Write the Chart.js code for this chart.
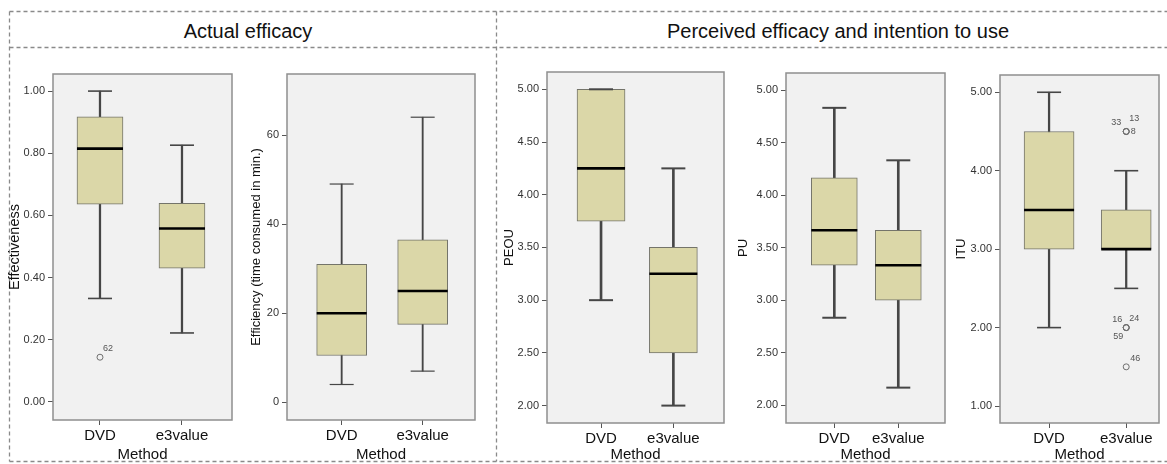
<!DOCTYPE html>
<html>
<head>
<meta charset="utf-8">
<script src="https://cdn.jsdelivr.net/npm/chart.js@4.4.1/dist/chart.umd.min.js"></script>
<style>
  html, body { margin: 0; padding: 0; background: #fff; }
  body { width: 1167px; height: 464px; position: relative; overflow: hidden; font-family: "Liberation Sans", Arial, sans-serif; }
  canvas { position: absolute; }
  .head { position: absolute; top: 20px; font-size: 20px; color: #111; white-space: nowrap; transform: translateX(-50%); }
  svg { position: absolute; left: 0; top: 0; }
</style>
</head>
<body>
<svg width="1167" height="464">
  <g stroke="#8a8a8a" stroke-width="1.3" stroke-dasharray="4 3" fill="none">
    <line x1="9.5" y1="11.5" x2="1167" y2="11.5"/>
    <line x1="9.5" y1="47.5" x2="1167" y2="47.5"/>
    <line x1="9.5" y1="11.5" x2="9.5" y2="461.5"/>
    <line x1="496.5" y1="11.5" x2="496.5" y2="461.5"/>
    <line x1="9.5" y1="461.5" x2="1167" y2="461.5"/>
  </g>
</svg>
<div class="head" style="left:248px">Actual efficacy</div>
<div class="head" style="left:838px">Perceived efficacy and intention to use</div>

<canvas id="effChart"></canvas>
<canvas id="timeChart"></canvas>
<canvas id="peouChart"></canvas>
<canvas id="puChart"></canvas>
<canvas id="ituChart"></canvas>

<script>
// --- DATOS ---
// cada caja: [mínimo, Q1, mediana, Q3, máximo]
const methods = ['DVD', 'e3value'];

const effTicks = [0, 0.2, 0.4, 0.6, 0.8, 1.0];
const effDVD = [0.333, 0.636, 0.815, 0.917, 1.0];
const effE3 = [0.222, 0.43, 0.558, 0.639, 0.826];
const effOutMethod = [1];
const effOutValue = [0.144];
const effOutId = ['62'];

const timeTicks = [0, 20, 40, 60];
const timeDVD = [4, 10.5, 20, 31, 49];
const timeE3 = [7, 17.5, 25, 36.5, 64];

const peouTicks = [2.0, 2.5, 3.0, 3.5, 4.0, 4.5, 5.0];
const peouDVD = [3.0, 3.75, 4.25, 5.0, 5.0];
const peouE3 = [2.0, 2.5, 3.25, 3.5, 4.25];

const puTicks = [2.0, 2.5, 3.0, 3.5, 4.0, 4.5, 5.0];
const puDVD = [2.833, 3.333, 3.667, 4.167, 4.833];
const puE3 = [2.167, 3.0, 3.333, 3.667, 4.333];

const ituTicks = [1.0, 2.0, 3.0, 4.0, 5.0];
const ituDVD = [2.0, 3.0, 3.5, 4.5, 5.0];
const ituE3 = [2.5, 3.0, 3.0, 3.5, 4.0];
const ituOutMethod = [2, 2, 2, 2, 2, 2, 2];
const ituOutValue = [4.5, 4.5, 4.5, 2.0, 2.0, 2.0, 1.5];
const ituOutId = ['33', '13', '8', '16', '24', '59', '46'];
// --- FIN DE LOS DATOS ---

const FONT = '"Liberation Sans", Arial, sans-serif';

// fondo gris y marco del área de trazado
const plotFrame = {
    id: 'plotFrame',
    beforeDraw(chart) {
        const a = chart.chartArea, ctx = chart.ctx;
        ctx.save();
        ctx.fillStyle = '#f1f1f1';
        ctx.fillRect(a.left, a.top, a.right - a.left, a.bottom - a.top);
        ctx.restore();
    },
    afterDraw(chart) {
        const a = chart.chartArea, ctx = chart.ctx;
        ctx.save();
        ctx.strokeStyle = '#8e8e8e';
        ctx.lineWidth = 1.5;
        ctx.strokeRect(a.left, a.top, a.right - a.left, a.bottom - a.top);
        ctx.restore();
    }
};

// etiquetas de los casos atípicos
const outlierLabels = {
    id: 'outlierLabels',
    afterDatasetsDraw(chart, args, opts) {
        if (!opts.ids) return;
        const ctx = chart.ctx, xs = chart.scales.x, ys = chart.scales.y;
        ctx.save();
        ctx.font = '9px ' + FONT;
        ctx.fillStyle = '#555';
        ctx.textAlign = 'center';
        ctx.textBaseline = 'middle';
        opts.ids.forEach((id, i) => {
            const px = xs.getPixelForValue(opts.xs[i]) + opts.offsets[i][0];
            const py = ys.getPixelForValue(opts.ys[i]) + opts.offsets[i][1];
            ctx.fillText(id, px, py);
        });
        ctx.restore();
    }
};

function boxDatasets(boxes, p) {
    const whisker = boxes.map((b, i) => ({ x: i + 1, y: [b[0], b[4]] }));
    const box = boxes.map((b, i) => ({ x: i + 1, y: [b[1], b[3]] }));
    const median = boxes.map((b, i) => ({ x: i + 1, y: b[2] }));
    const caps = [];
    boxes.forEach((b, i) => { caps.push({ x: i + 1, y: b[0] }, { x: i + 1, y: b[4] }); });
    const sets = [
        { type: 'bar', data: whisker, grouped: false, barThickness: p.whiskerW, backgroundColor: '#464646', order: 4 },
        { type: 'bar', data: box, grouped: false, barThickness: p.boxW, backgroundColor: '#dbd7a8',
          borderColor: '#74746a', borderWidth: 1, borderSkipped: false, order: 3 },
        { type: 'line', data: caps, showLine: false, pointStyle: 'line', pointRadius: 12,
          borderColor: '#464646', pointBorderWidth: p.whiskerW, order: 2 },
        { type: 'line', data: median, showLine: false, pointStyle: 'line', pointRadius: p.boxW / 2,
          borderColor: '#000', pointBorderWidth: 2.6, order: 1 }
    ];
    if (p.outX) {
        sets.push({ type: 'line', data: p.outX.map((x, i) => ({ x: x, y: p.outY[i] })), showLine: false,
            pointStyle: 'circle', pointRadius: 3, pointBackgroundColor: 'rgba(255,255,255,0)',
            borderColor: '#707070', pointBorderWidth: 1, order: 0 });
    }
    return sets;
}

function noPadding(s) {
    s.paddingTop = 0;
    s.paddingBottom = 0;
    s.paddingLeft = 0;
    s.paddingRight = 0;
}

function makePanel(id, p) {
    const canvas = document.getElementById(id);
    const top = p.plotTop - 2;
    const width = p.plotRight + 2 - p.canvasLeft;
    const height = 464 - top;
    canvas.width = width;
    canvas.height = height;
    canvas.style.left = p.canvasLeft + 'px';
    canvas.style.top = top + 'px';
    canvas.style.width = width + 'px';
    canvas.style.height = height + 'px';

    return new Chart(canvas.getContext('2d'), {
        type: 'bar',
        data: { datasets: boxDatasets([p.dvd, p.e3], p) },
        options: {
            responsive: false,
            animation: false,
            devicePixelRatio: 1,
            layout: { autoPadding: false, padding: { left: 0, right: 2, top: 2, bottom: 0 } },
            plugins: {
                legend: { display: false },
                tooltip: { enabled: false },
                outlierLabels: { ids: p.outIds, xs: p.outX, ys: p.outY, offsets: p.labelOffsets }
            },
            scales: {
                x: {
                    type: 'linear', min: p.xMin, max: p.xMax, offset: false, bounds: 'data',
                    afterBuildTicks: (s) => { s.ticks = methods.map((m, i) => ({ value: i + 1 })); },
                    afterFit: (s) => { s.height = 464 - p.plotBottom; noPadding(s); },
                    grid: { offset: false, drawOnChartArea: false, drawTicks: true, tickLength: 5, color: '#555', lineWidth: 1 },
                    border: { display: false },
                    ticks: { padding: 2, color: '#111', font: { family: FONT, size: 15 },
                             callback: (v) => methods[v - 1], maxRotation: 0, autoSkip: false },
                    title: { display: true, text: 'Method', color: '#111', padding: 0,
                             font: { family: FONT, size: 15 } }
                },
                y: {
                    type: 'linear', min: p.yMin, max: p.yMax, bounds: 'data',
                    afterBuildTicks: (s) => { s.ticks = p.ticks.map(v => ({ value: v })); },
                    afterFit: (s) => { s.width = p.plotLeft - p.canvasLeft; noPadding(s); },
                    grid: { drawOnChartArea: false, drawTicks: true, tickLength: 5, color: '#555', lineWidth: 1 },
                    border: { display: false },
                    ticks: { padding: 3, color: '#333', font: { family: FONT, size: 11 },
                             callback: (v) => v.toFixed(p.decimals), autoSkip: false },
                    title: { display: true, text: p.title, color: '#111', padding: 0,
                             font: { family: FONT, size: p.titleSize } }
                }
            }
        },
        plugins: [plotFrame, outlierLabels]
    });
}

makePanel('effChart', {
    canvasLeft: 6, plotLeft: 53, plotRight: 232, plotTop: 74, plotBottom: 420,
    xMin: 0.427, xMax: 2.61, yMin: -0.058, yMax: 1.055, boxW: 46, whiskerW: 1.6,
    ticks: effTicks, decimals: 2, title: 'Effectiveness', titleSize: 14.5,
    dvd: effDVD, e3: effE3, outX: effOutMethod, outY: effOutValue, outIds: effOutId,
    labelOffsets: [[8, -9]]
});

makePanel('timeChart', {
    canvasLeft: 249, plotLeft: 287, plotRight: 475, plotTop: 74, plotBottom: 420,
    xMin: 0.325, xMax: 2.646, yMin: -3.97, yMax: 73.7, boxW: 50, whiskerW: 1.2,
    ticks: timeTicks, decimals: 0, title: 'Efficiency (time consumed in min.)', titleSize: 13,
    dvd: timeDVD, e3: timeE3
});

makePanel('peouChart', {
    canvasLeft: 502, plotLeft: 547, plotRight: 724, plotTop: 72, plotBottom: 423,
    xMin: 0.253, xMax: 2.70, yMin: 1.835, yMax: 5.164, boxW: 48, whiskerW: 2,
    ticks: peouTicks, decimals: 2, title: 'PEOU', titleSize: 13,
    dvd: peouDVD, e3: peouE3
});

makePanel('puChart', {
    canvasLeft: 736, plotLeft: 786, plotRight: 945, plotTop: 73, plotBottom: 423,
    xMin: 0.245, xMax: 2.73, yMin: 1.83, yMax: 5.165, boxW: 46, whiskerW: 2,
    ticks: puTicks, decimals: 2, title: 'PU', titleSize: 13,
    dvd: puDVD, e3: puE3
});

makePanel('ituChart', {
    canvasLeft: 954, plotLeft: 1000, plotRight: 1159, plotTop: 75, plotBottom: 423,
    xMin: 0.364, xMax: 2.425, yMin: 0.784, yMax: 5.22, boxW: 50, whiskerW: 1.6,
    ticks: ituTicks, decimals: 2, title: 'ITU', titleSize: 13,
    dvd: ituDVD, e3: ituE3, outX: ituOutMethod, outY: ituOutValue, outIds: ituOutId,
    labelOffsets: [[-10, -9], [8, -13], [7, 0], [-9, -8], [8, -9], [-8, 9], [9, -8]]
});
</script>
</body>
</html>
